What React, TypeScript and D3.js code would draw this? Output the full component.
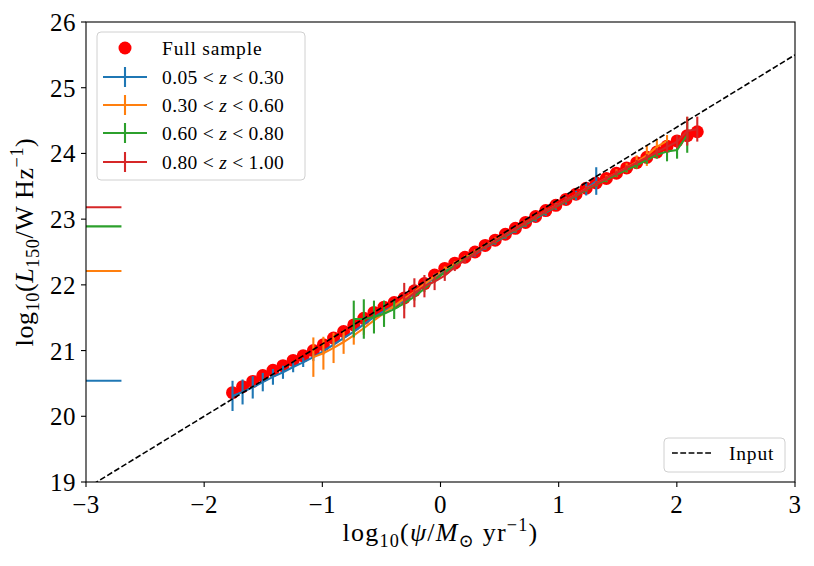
import React from "react";
import * as d3 from "d3";

// ---------- data ----------
const X_BINS = [
  -1.76, -1.675, -1.589, -1.504, -1.418, -1.333, -1.247, -1.162, -1.076, -0.991,
  -0.905, -0.82, -0.734, -0.649, -0.563, -0.478, -0.392, -0.307, -0.221, -0.136,
  -0.05, 0.036, 0.121, 0.207, 0.292, 0.378, 0.463, 0.549, 0.634, 0.72,
  0.805, 0.891, 0.976, 1.062, 1.147, 1.233, 1.318, 1.404, 1.489, 1.575,
  1.66, 1.746, 1.831, 1.917, 2.002, 2.088, 2.173,
];

const FULL_Y = [
  20.36, 20.45, 20.53, 20.62, 20.7, 20.77, 20.85, 20.92, 21.0, 21.09,
  21.19, 21.29, 21.39, 21.49, 21.58, 21.66, 21.73, 21.8, 21.91, 22.02,
  22.15, 22.25, 22.33, 22.42, 22.5, 22.6, 22.68, 22.77, 22.86, 22.95,
  23.04, 23.13, 23.21, 23.3, 23.38, 23.47, 23.55, 23.62, 23.7, 23.78,
  23.86, 23.94, 24.02, 24.11, 24.19, 24.27, 24.33,
];

const BLUE_START = 0;
const BLUE_Y = [
  20.31, 20.37, 20.44, 20.52, 20.6, 20.67, 20.75, 20.82, 20.9, 20.99,
  21.09, 21.19, 21.29, 21.4, 21.51, 21.6, 21.68, 21.76, 21.87, 21.99,
  22.12, 22.22, 22.3, 22.39, 22.47, 22.57, 22.65, 22.74, 22.83, 22.92,
  23.01, 23.1, 23.19, 23.28, 23.36, 23.46, 23.58,
];
const BLUE_ERR = [
  0.23, 0.19, 0.17, 0.14, 0.12, 0.1, 0.08, 0.07, 0.06, 0.05,
  0.05, 0.05, 0.04, 0.04, 0.04, 0.04, 0.04, 0.04, 0.04, 0.04,
  0.04, 0.04, 0.04, 0.04, 0.04, 0.04, 0.04, 0.04, 0.04, 0.04,
  0.05, 0.05, 0.05, 0.06, 0.07, 0.1, 0.21,
];

const ORANGE_START = 8;
const ORANGE_Y = [
  20.9, 20.96, 21.04, 21.13, 21.23, 21.34, 21.46, 21.57, 21.68, 21.79,
  21.89, 22.01, 22.13, 22.24, 22.32, 22.41, 22.5, 22.59, 22.68, 22.76,
  22.85, 22.94, 23.03, 23.12, 23.2, 23.29, 23.37, 23.46, 23.54, 23.62,
  23.7, 23.78, 23.87, 23.97, 24.1, 24.19,
];
const ORANGE_ERR = [
  0.3, 0.25, 0.23, 0.18, 0.14, 0.1, 0.08, 0.06, 0.05, 0.04,
  0.04, 0.04, 0.04, 0.04, 0.04, 0.04, 0.04, 0.04, 0.04, 0.04,
  0.04, 0.04, 0.04, 0.04, 0.04, 0.04, 0.04, 0.04, 0.04, 0.05,
  0.06, 0.07, 0.1, 0.16, 0.12, 0.09,
];

const GREEN_START = 12;
const GREEN_Y = [
  21.48, 21.48, 21.51, 21.56, 21.63, 21.72, 21.82, 21.94, 22.07, 22.19,
  22.29, 22.39, 22.48, 22.58, 22.66, 22.75, 22.84, 22.93, 23.02, 23.11,
  23.19, 23.28, 23.36, 23.45, 23.53, 23.6, 23.68, 23.75, 23.82, 23.9,
  23.98, 24.03, 24.05, 24.28,
];
const GREEN_ERR = [
  0.28, 0.3, 0.25, 0.2, 0.15, 0.08, 0.06, 0.05, 0.04, 0.04,
  0.04, 0.04, 0.04, 0.04, 0.04, 0.04, 0.04, 0.04, 0.04, 0.04,
  0.04, 0.04, 0.04, 0.04, 0.04, 0.04, 0.04, 0.04, 0.05, 0.06,
  0.06, 0.15, 0.13, 0.27,
];

const RED_START = 17;
const RED_Y = [
  21.76, 21.88, 21.98, 22.05, 22.14, 22.27, 22.38, 22.48, 22.58, 22.67,
  22.76, 22.85, 22.94, 23.03, 23.12, 23.2, 23.29, 23.37, 23.46, 23.54,
  23.62, 23.7, 23.78, 23.86, 23.94, 24.02, 24.1, 24.18, 24.34, 24.37,
];
const RED_ERR = [
  0.27, 0.22, 0.17, 0.13, 0.08, 0.06, 0.05, 0.04, 0.04, 0.04,
  0.04, 0.04, 0.04, 0.04, 0.04, 0.04, 0.04, 0.04, 0.04, 0.04,
  0.04, 0.04, 0.04, 0.04, 0.05, 0.06, 0.08, 0.1, 0.22, 0.19,
];

const SERIES_LABELS = ["0.05", "0.30", "0.60", "0.80", "1.00"];
const SERIES_COLORS = ["#1f77b4", "#ff7f0e", "#2ca02c", "#d62728"];
const FLUX_LIMITS = [20.54, 22.21, 22.89, 23.18];
const FLUX_LIMIT_XMAX = -2.7;

const INPUT_INTERCEPT = 22.2;
const INPUT_SLOPE = 1.1;

const X_DOMAIN = [-3, 3];
const Y_DOMAIN = [19, 26];
const X_TICKS = [-3, -2, -1, 0, 1, 2, 3];
const Y_TICKS = [19, 20, 21, 22, 23, 24, 25, 26];

// ---------- layout ----------
const W = 814;
const H = 566;
const M = { left: 86, right: 795, top: 22, bottom: 482 };
const FONT = "'Liberation Serif', 'DejaVu Serif', serif";

const fmt = (v: number) => (v < 0 ? "\u2212" + Math.abs(v) : String(v));

export default function App() {
  const x = d3.scaleLinear().domain(X_DOMAIN).range([M.left, M.right]);
  const y = d3.scaleLinear().domain(Y_DOMAIN).range([M.bottom, M.top]);

  const series = [
    { start: BLUE_START, ys: BLUE_Y, errs: BLUE_ERR },
    { start: ORANGE_START, ys: ORANGE_Y, errs: ORANGE_ERR },
    { start: GREEN_START, ys: GREEN_Y, errs: GREEN_ERR },
    { start: RED_START, ys: RED_Y, errs: RED_ERR },
  ].map((s, i) => ({
    color: SERIES_COLORS[i],
    pts: s.ys.map((v, j) => ({ x: X_BINS[s.start + j], y: v, e: s.errs[j] })),
  }));

  const line = d3
    .line<{ x: number; y: number }>()
    .x((d) => x(d.x))
    .y((d) => y(d.y));

  const inputLine = [
    { x: X_DOMAIN[0], y: INPUT_INTERCEPT + INPUT_SLOPE * X_DOMAIN[0] },
    { x: X_DOMAIN[1], y: INPUT_INTERCEPT + INPUT_SLOPE * X_DOMAIN[1] },
  ];

  const tickFs = 25;
  const legFs = 19.5;
  const labFs = 26;

  const legRows = [48, 77, 105, 133, 162];

  return (
    <svg width={W} height={H} style={{ position: "absolute", left: 0, top: 0 }} fontFamily={FONT}>
      <rect x={0} y={0} width={W} height={H} fill="white" />
      <defs>
        <clipPath id="plotclip">
          <rect x={M.left} y={M.top} width={M.right - M.left} height={M.bottom - M.top} />
        </clipPath>
      </defs>

      <g clipPath="url(#plotclip)">
        {FLUX_LIMITS.map((v, i) => (
          <line
            key={"fl" + i}
            x1={x(X_DOMAIN[0])}
            x2={x(FLUX_LIMIT_XMAX)}
            y1={y(v)}
            y2={y(v)}
            stroke={SERIES_COLORS[i]}
            strokeWidth={2.1}
          />
        ))}
        {X_BINS.map((xv, i) => (
          <circle key={"fs" + i} cx={x(xv)} cy={y(FULL_Y[i])} r={6.5} fill="#ff0000" />
        ))}
        {series.map((s, i) => (
          <g key={"s" + i}>
            <path d={line(s.pts) || ""} fill="none" stroke={s.color} strokeWidth={2.1} />
            {s.pts.map((p, j) => (
              <line
                key={j}
                x1={x(p.x)}
                x2={x(p.x)}
                y1={y(p.y - p.e)}
                y2={y(p.y + p.e)}
                stroke={s.color}
                strokeWidth={2.1}
              />
            ))}
          </g>
        ))}
        <path
          d={line(inputLine) || ""}
          fill="none"
          stroke="black"
          strokeWidth={1.6}
          strokeDasharray="5.8,2.5"
        />
      </g>

      <rect
        x={M.left}
        y={M.top}
        width={M.right - M.left}
        height={M.bottom - M.top}
        fill="none"
        stroke="black"
        strokeWidth={1.1}
      />

      {X_TICKS.map((t) => (
        <g key={"xt" + t}>
          <line x1={x(t)} x2={x(t)} y1={M.bottom} y2={M.bottom + 5} stroke="black" strokeWidth={1.1} />
          <text x={x(t)} y={M.bottom + 31} fontSize={tickFs} textAnchor="middle" letterSpacing={0.5}>
            {fmt(t)}
          </text>
        </g>
      ))}
      {Y_TICKS.map((t) => (
        <g key={"yt" + t}>
          <line x1={M.left - 5} x2={M.left} y1={y(t)} y2={y(t)} stroke="black" strokeWidth={1.1} />
          <text x={M.left - 10} y={y(t) + 9} fontSize={tickFs} textAnchor="end" letterSpacing={0.5}>
            {fmt(t)}
          </text>
        </g>
      ))}

      <text x={(M.left + M.right) / 2} y={541} fontSize={labFs} textAnchor="middle" letterSpacing={1.2}>
        <tspan>log</tspan>
        <tspan fontSize={labFs * 0.7} dy={6}>10</tspan>
        <tspan dy={-6}>(</tspan>
        <tspan fontStyle="italic">ψ</tspan>
        <tspan>/</tspan>
        <tspan fontStyle="italic">M</tspan>
        <tspan fontSize={labFs * 0.7} dy={6}>⊙</tspan>
        <tspan dy={-6}> yr</tspan>
        <tspan fontSize={labFs * 0.7} dy={-10}>−1</tspan>
        <tspan dy={10}>)</tspan>
      </text>

      <text
        transform={`translate(33,${(M.top + M.bottom) / 2 - 10}) rotate(-90)`}
        fontSize={labFs}
        textAnchor="middle"
        letterSpacing={0.6}
      >
        <tspan>log</tspan>
        <tspan fontSize={labFs * 0.7} dy={6}>10</tspan>
        <tspan dy={-6}>(</tspan>
        <tspan fontStyle="italic">L</tspan>
        <tspan fontSize={labFs * 0.7} dy={6}>150</tspan>
        <tspan dy={-6}>/W Hz</tspan>
        <tspan fontSize={labFs * 0.7} dy={-10}>−1</tspan>
        <tspan dy={10}>)</tspan>
      </text>

      <rect x={97} y={32} width={208} height={148} rx={4} fill="white" fillOpacity={0.8} stroke="#d0d0d0" strokeWidth={1} />
      <circle cx={125} cy={legRows[0]} r={6.5} fill="#ff0000" />
      <text x={162} y={legRows[0] + 6.5} fontSize={legFs} letterSpacing={0.8}>Full sample</text>
      {SERIES_COLORS.map((c, i) => {
        const cy = legRows[i + 1];
        return (
          <g key={"lg" + i}>
            <line x1={103} x2={147} y1={cy} y2={cy} stroke={c} strokeWidth={2.1} />
            <line x1={125} x2={125} y1={cy - 10} y2={cy + 10} stroke={c} strokeWidth={2.1} />
            <text x={162} y={cy + 6.5} fontSize={legFs} letterSpacing={0.4}>
              <tspan>{SERIES_LABELS[i]}</tspan>
              <tspan dx={5}>&lt;</tspan>
              <tspan dx={5} fontStyle="italic">z</tspan>
              <tspan dx={5}>&lt;</tspan>
              <tspan dx={5}>{SERIES_LABELS[i + 1]}</tspan>
            </text>
          </g>
        );
      })}

      <rect x={664} y={438} width={121} height={34} rx={4} fill="white" fillOpacity={0.8} stroke="#d0d0d0" strokeWidth={1} />
      <line x1={672} x2={713} y1={453} y2={453} stroke="black" strokeWidth={1.6} strokeDasharray="5.8,2.5" />
      <text x={729} y={459.5} fontSize={legFs} letterSpacing={0.8}>Input</text>
    </svg>
  );
}
